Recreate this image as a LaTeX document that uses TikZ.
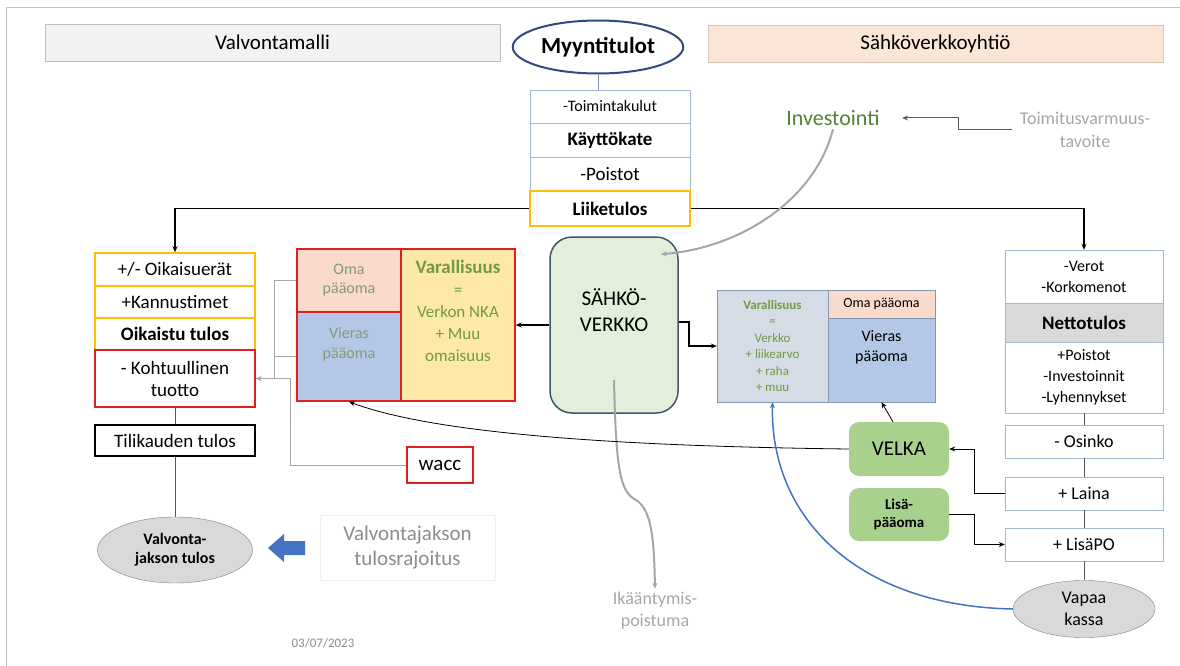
\documentclass[tikz,border=0pt]{standalone}
\usepackage{fontspec}
\setmainfont{Carlito}
\usetikzlibrary{shapes.geometric,arrows.meta}
\definecolor{headgray}{HTML}{F2F2F2}
\definecolor{headline}{HTML}{BFBFBF}
\definecolor{headpeach}{HTML}{FBE5D6}
\definecolor{peachline}{HTML}{D9C3B5}
\definecolor{navy}{HTML}{2F4B7C}
\definecolor{cellblue}{HTML}{A3B6D4}
\definecolor{gold}{HTML}{FFC000}
\definecolor{redb}{HTML}{E02020}
\definecolor{peach}{HTML}{FADBCB}
\definecolor{paleblue}{HTML}{B4C7E7}
\definecolor{paleyellow}{HTML}{FEE8A8}
\definecolor{palegreen}{HTML}{E2EFDA}
\definecolor{slate}{HTML}{44546A}
\definecolor{greyblue}{HTML}{D6DCE5}
\definecolor{slateblue}{HTML}{8497B0}
\definecolor{velkagreen}{HTML}{A9D18E}
\definecolor{lightgray}{HTML}{D9D9D9}
\definecolor{mutedgreen}{HTML}{849B72}
\definecolor{vargreen}{HTML}{6F9B45}
\definecolor{investgreen}{HTML}{548235}
\definecolor{softgray}{HTML}{A6A6A6}
\definecolor{textgray}{HTML}{8C8C8C}
\definecolor{darkgray}{HTML}{595959}
\definecolor{kassablue}{HTML}{4472C4}
\begin{document}
\begin{tikzpicture}[x=1pt,y=-1pt,>={Stealth[length=6pt,width=5pt]},
    fs/.style 2 args={font=\fontsize{#1}{#2}\selectfont},
    header/.style={draw=headline, fill=headgray, minimum width=455pt, minimum height=37pt, fs={21}{24}},
    cell/.style={draw=cellblue, inner sep=0pt, align=center, minimum width=160pt, fs={19}{22}},
    ycell/.style={cell, draw=gold, line width=1.5pt},
    rcell/.style={cell, draw=redb, line width=1.5pt},
    rcol/.style={cell, minimum width=158pt, fs={16}{21}},
    greenbox/.style={fill=velkagreen, rounded corners=10pt, minimum width=100pt, align=center},
    link/.style={draw=black, line width=1.6pt},
    thinlink/.style={draw=black, line width=0.8pt},
    glink/.style={draw=softgray, line width=1pt},
    gcurve/.style={draw=softgray, line width=2pt}]
  \useasboundingbox (0,0) rectangle (1180,666);
  \draw[headline, line width=1pt] (6,666) -- (6,8) -- (1180,8);

  \node[header] (hv) at (272.5,42.5) {Valvontamalli};
  \node[header, draw=peachline, fill=headpeach] (hs) at (935.5,43.5) {Sähköverkkoyhtiö};
  \node[ellipse, draw=navy, line width=2pt, minimum width=138pt, minimum height=53pt, fs={23}{26}] (myynti) at (598,47) {\textbf{Myyntitulot}};

  % tuloslaskelma
  \node[cell, minimum height=33pt, fs={16}{19}] (toim) at (610,106.5) {-Toimintakulut};
  \node[cell, minimum height=34pt] (kayt) at (610,140) {\textbf{Käyttökate}};
  \node[cell, minimum height=34pt] (poist) at (610,174) {-Poistot};
  \node[ycell, minimum height=35pt] (liike) at (610,208.5) {\textbf{Liiketulos}};

  % valvontamalli
  \node[ycell, minimum height=33pt] (oik) at (175,269.5) {+/- Oikaisuerät};
  \node[ycell, minimum height=32pt] (kann) at (175,302) {+Kannustimet};
  \node[ycell, minimum height=32pt] (oikt) at (175,334) {\textbf{Oikaistu tulos}};
  \node[rcell, minimum height=57pt] (koht) at (175,378.5) {- Kohtuullinen\\tuotto};
  \node[cell, draw=black, line width=1.8pt, minimum height=31pt] (tili) at (175,440.5) {Tilikauden tulos};
  \node[ellipse, draw=gray, fill=lightgray, minimum width=155pt, minimum height=66pt, align=center, fs={16}{19}] (vjt) at (175,550) {\textbf{Valvonta-}\\\textbf{jakson tulos}};
  \fill[kassablue] (305,541) -- (284,541) -- (284,534) -- (268,548) -- (284,562) -- (284,555) -- (305,555) -- cycle;
  \node[draw=headgray, line width=1pt, minimum width=175pt, minimum height=65pt, align=center, text=textgray, fs={21}{25}] (vrj) at (407.5,547.5) {Valvontajakson\\tulosrajoitus};
  \node[draw=redb, line width=1.5pt, minimum width=66pt, minimum height=36pt, fs={21}{24}] (wacc) at (440,465) {wacc};
  \node[text=textgray, fs={13}{15}] (date) at (323,643) {03/07/2023};

  % tase, valvontamalli
  \node[rcell, fill=peach, minimum width=104pt, minimum height=63pt, text=mutedgreen, fs={16}{19}] (oma1) at (349,280.5) {Oma\\pääoma};
  \node[rcell, fill=paleblue, minimum width=104pt, minimum height=89pt] (vier1) at (349,356.5) {};
  \node[align=center, text=mutedgreen, fs={16}{20}] (vier1txt) at (349,344) {Vieras\\pääoma};
  \node[rcell, fill=paleyellow, minimum width=114pt, minimum height=152pt] (var1) at (458,325) {};
  \node[align=center, text=vargreen, fs={17}{22}] (var1txt) at (458,311) {{\fontsize{19}{22}\selectfont\textbf{Varallisuus}}\\=\\Verkon NKA\\+ Muu\\omaisuus};

  \node[draw=slate, fill=palegreen, rounded corners=22pt, line width=1.5pt, minimum width=128pt, minimum height=176pt] (sahko) at (614,325) {};
  \node[align=center, fs={21}{26}] (sahkotxt) at (614,310) {SÄHKÖ-\\VERKKO};

  % tase, yhtiö
  \node[draw=slateblue, fill=greyblue, minimum width=111pt, minimum height=112pt, align=center, text=vargreen, fs={13}{16.5}] (var2) at (772.5,346) {\textbf{Varallisuus}\\=\\Verkko\\+ liikearvo\\+ raha\\+ muu};
  \node[draw=slateblue, fill=peach, minimum width=107pt, minimum height=28pt, fs={14}{16}] (oma2) at (881.5,304) {Oma pääoma};
  \node[draw=slateblue, fill=paleblue, minimum width=107pt, minimum height=84pt] (vier2) at (881.5,360) {};
  \node[align=center, fs={16}{20}] (vier2txt) at (881.5,347.5) {Vieras\\pääoma};

  % kassavirta
  \node[rcol, minimum height=53pt] (verot) at (1084,276.5) {-Verot\\-Korkomenot};
  \node[rcol, fill=lightgray, minimum height=39pt, fs={19}{22}] (netto) at (1084,322.5) {\textbf{Nettotulos}};
  \node[rcol, minimum height=71pt] (poist2) at (1084,377.5) {+Poistot\\-Investoinnit\\-Lyhennykset};
  \node[rcol, minimum height=33pt, fs={18}{21}] (osinko) at (1084,441.5) {- Osinko};
  \node[rcol, minimum height=33pt, fs={18}{21}] (laina) at (1084,493.5) {+ Laina};
  \node[rcol, minimum height=33pt, fs={18}{21}] (lisapo) at (1084,544.5) {+ LisäPO};
  \node[ellipse, draw=gray, fill=lightgray, minimum width=142pt, minimum height=56pt, align=center, fs={18}{22}] (vapaa) at (1084,609) {Vapaa\\kassa};
  \node[greenbox, minimum height=54pt, fs={21}{24}] (velka) at (899,449) {VELKA};
  \node[greenbox, minimum height=53pt, fs={15}{18}] (lisa) at (899,514.5) {\textbf{Lisä-}\\\textbf{pääoma}};

  \node[text=investgreen, fs={22}{25}] (invest) at (833,118) {Investointi};
  \node[align=center, text=softgray, fs={18}{23}] (toimit) at (1085,129.5) {Toimitusvarmuus-\\tavoite};
  \node[align=center, text=softgray, fs={18}{22}] (ika) at (655,611) {Ikääntymis-\\poistuma};

  \draw[navy!60, line width=0.8pt] (myynti.south) -- (myynti.south |- toim.north);
  \draw[link, ->] (liike.west) -| (oik.north);
  \draw[link, ->] (liike.east) -| (verot.north);
  \draw[darkgray, line width=1pt] (koht) -- (tili);
  \draw[darkgray, line width=1pt] (tili) -- (vjt);
  \draw[glink] (oma1.west) -- ++(-22,0) coordinate (b1) -- (b1 |- koht.east);
  \draw[glink] (vier1.west) -- (vier1.west -| b1);
  \draw[glink, ->] (wacc.west) -| ([xshift=35pt]koht.east) -- (koht.east);
  \draw[link, line width=2pt, ->] (sahko.west) -- (var1.east);
  \draw[link, line width=2pt, ->] ([yshift=3pt]sahko.east) -- ++(10,0) |- (var2.west);
  \draw[gcurve, ->] (invest.south) .. controls (815,200) and (740,248) .. ([xshift=-18pt,yshift=-18pt]sahko.north east);
  \draw[gcurve, ->] ([yshift=-55pt]sahko.center) .. controls (616,470) and (620,492) .. (636,500) .. controls (652,510) and (654,540) .. (ika.north);
  \draw[darkgray, line width=1pt, ->, shorten >=19pt] ([xshift=-4pt]toimit.west) -- ++(-54,0) |- (invest.east);
  \draw[thinlink, ->] (velka.west) .. controls (600,446) and (430,432) .. (vier1.south);
  \draw[thinlink, ->] ([xshift=-6pt]velka.north) -- (vier2.south);
  \draw[thinlink, ->] (laina.west) -- ++(-30,0) |- (velka.east);
  \draw[thinlink, ->] (lisa.east) -- ++(25,0) |- (lisapo.west);
  \draw[darkgray, line width=0.8pt] (poist2) -- (osinko);
  \draw[darkgray, line width=0.8pt] (osinko) -- (laina);
  \draw[darkgray, line width=0.8pt] (laina) -- (lisapo);
  \draw[darkgray, line width=0.8pt] (lisapo) -- (vapaa);
  \draw[kassablue, line width=1.5pt, ->] (vapaa.west) .. controls (860,606) and (770,520) .. (var2.south);
\end{tikzpicture}
\end{document}
